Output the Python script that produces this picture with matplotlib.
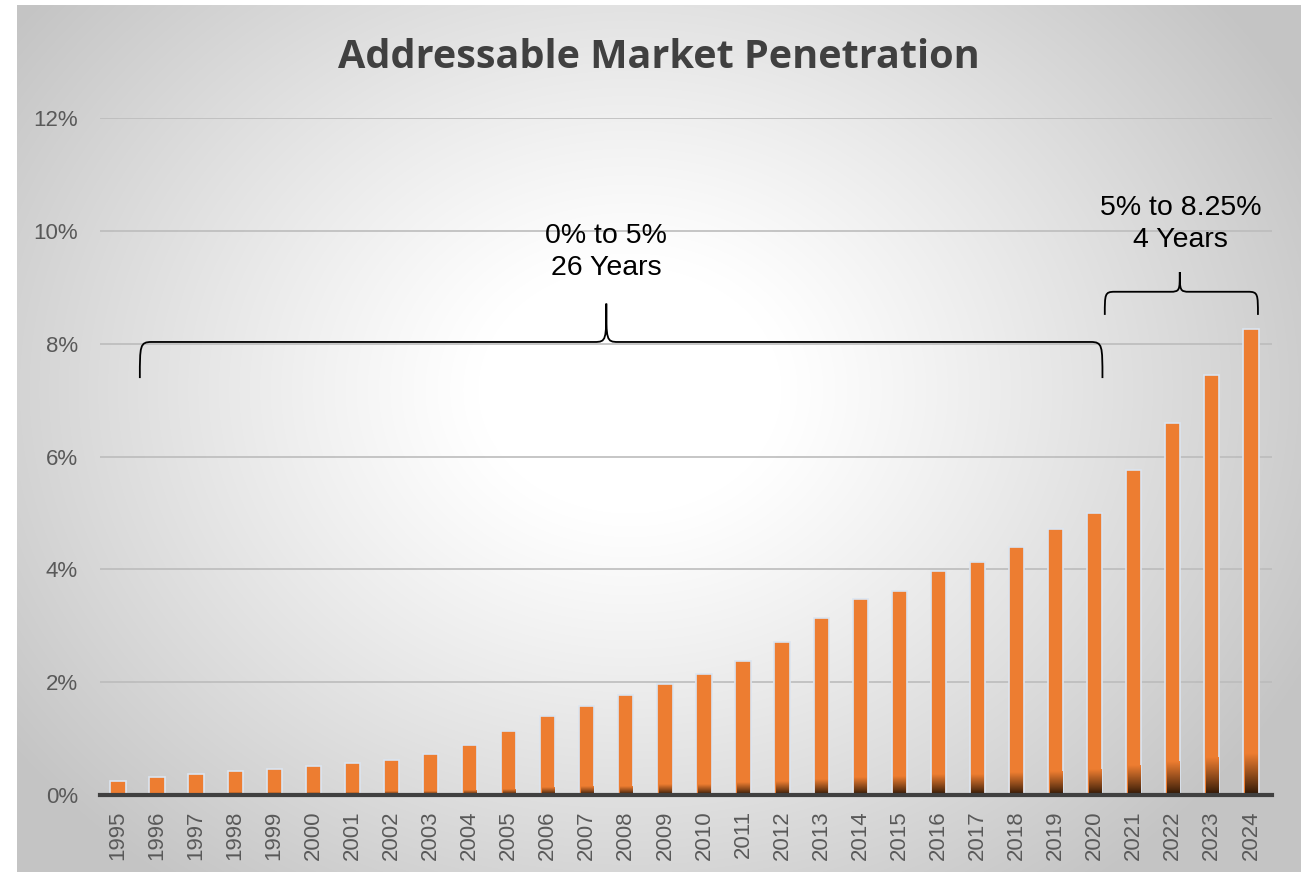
import numpy as np
import matplotlib
matplotlib.use("Agg")
import matplotlib.pyplot as plt
from matplotlib.path import Path
from matplotlib.patches import PathPatch

years = [str(y) for y in range(1995, 2025)]
penetration = [0.25, 0.32, 0.37, 0.42, 0.46, 0.51, 0.57, 0.62, 0.73, 0.89,
               1.13, 1.40, 1.58, 1.77, 1.97, 2.15, 2.38, 2.71, 3.14, 3.48,
               3.62, 3.97, 4.13, 4.40, 4.72, 5.00, 5.76, 6.60, 7.45, 8.26]
y_ticks = [0, 2, 4, 6, 8, 10, 12]
y_tick_labels = ["0%", "2%", "4%", "6%", "8%", "10%", "12%"]

plt.rcParams['font.family'] = ['Liberation Sans', 'DejaVu Sans']

W, H = 1301, 872
fig = plt.figure(figsize=(W / 100, H / 100), dpi=100)
fig.patch.set_facecolor("white")

# radial grey background
bg = fig.add_axes([17 / W, 0, 1 - 17 / W, 1 - 5 / H], zorder=-5)
gx, gy = np.meshgrid(np.arange(17, W), np.arange(5, H))
d = np.sqrt(((gx - 630) / 760.0) ** 2 + ((gy - 390) / 620.0) ** 2)
v = 1 - 0.23 * np.clip((d - 0.2) / 0.8, 0, 1) ** 1.1
bg.imshow(np.dstack([v, v, v]), aspect="auto", interpolation="bilinear")
bg.axis("off")

ax = fig.add_axes([100 / W, (H - 795) / H, 1172 / W, 677 / H])
ax.set_facecolor("none")
x = np.arange(len(years))
bars = ax.bar(x, penetration, width=0.39, color="#ed7d31",
              edgecolor="#dbe5f1", linewidth=1.2, zorder=3)

# dark gradient at the bottom of each bar
grad = np.linspace(0, 1, 64)[:, None]
c_top = np.array([0.93, 0.49, 0.19])
c_bot = np.array([0.16, 0.08, 0.02])
img = c_bot + (c_top - c_bot) * grad[..., None] ** 0.9
for b, val in zip(bars, penetration):
    x0 = b.get_x() + 0.04
    x1 = b.get_x() + b.get_width() - 0.04
    im = ax.imshow(img, extent=(x0, x1, 0, val * 0.09), origin="lower",
                   aspect="auto", zorder=4, interpolation="bilinear")
    im.set_clip_path(b)

ax.set_xlim(-0.46, 29.54)
ax.set_ylim(0, 12)
ax.set_yticks(y_ticks)
ax.set_yticklabels(y_tick_labels)
ax.set_xticks(x)
ax.set_xticklabels(years, rotation=90)
ax.yaxis.grid(True, color="#bcbcbc", linewidth=1.2, zorder=0)
ax.set_axisbelow(True)
for s in ax.spines.values():
    s.set_visible(False)
ax.tick_params(axis="both", length=0, labelsize=16, colors="#595959")
ax.tick_params(axis="y", pad=16)
ax.tick_params(axis="x", pad=11)
ax.axhline(0, color="#404040", linewidth=3, zorder=5, clip_on=False)


def brace(ax, x0, x1, xm, ybase, ytop, ytip, r=0.3):
    h = ytop - ybase
    verts = [(x0, ybase), (x0, ytop - 0.1 * h), (x0, ytop), (x0 + r, ytop),
             (xm - r, ytop), (xm, ytop), (xm, ytop + 0.05 * h), (xm, ytip),
             (xm, ytop + 0.05 * h), (xm, ytop), (xm + r, ytop),
             (x1 - r, ytop), (x1, ytop), (x1, ytop - 0.1 * h), (x1, ybase)]
    codes = [Path.MOVETO, Path.CURVE4, Path.CURVE4, Path.CURVE4,
             Path.LINETO, Path.CURVE4, Path.CURVE4, Path.CURVE4,
             Path.CURVE4, Path.CURVE4, Path.CURVE4,
             Path.LINETO, Path.CURVE4, Path.CURVE4, Path.CURVE4]
    ax.add_patch(PathPatch(Path(verts, codes), fill=False, color="black",
                           linewidth=1.3, zorder=6, clip_on=False))


brace(ax, 0.56, 25.2, 12.5, 7.39, 8.03, 8.71)
brace(ax, 25.26, 29.18, 27.18, 8.51, 8.92, 9.27, r=0.25)

ax.text(12.5, 9.63, "0% to 5%\n26 Years", ha="center", va="center",
        fontsize=20.5, color="black", linespacing=1.3, zorder=6)
ax.text(27.2, 10.12, "5% to 8.25%\n4 Years", ha="center", va="center",
        fontsize=20.5, color="black", linespacing=1.3, zorder=6)

fig.text(659 / W, 1 - 58 / H, "Addressable Market Penetration",
         ha="center", va="center", fontsize=28.5, fontweight="bold",
         family="Open Sans", color="#404040")

fig.savefig("out.png", dpi=100)
